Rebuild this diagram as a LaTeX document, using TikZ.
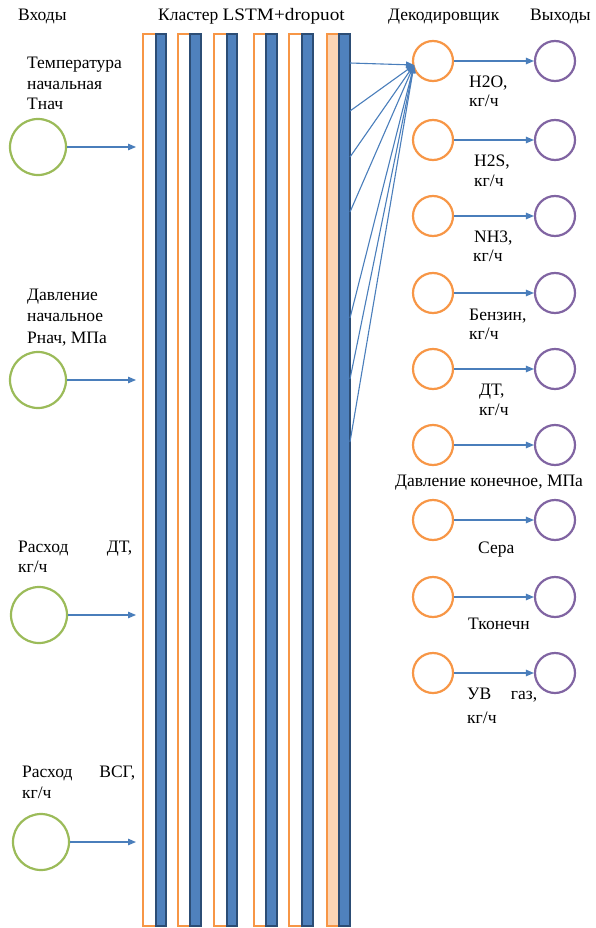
\documentclass[tikz,border=0pt]{standalone}
\usepackage{fontspec}
\setmainfont{Liberation Serif}
\usetikzlibrary{arrows.meta}
\definecolor{orn}{HTML}{F79646}
\definecolor{peach}{HTML}{FBD5B5}
\definecolor{blu}{HTML}{4F81BD}
\definecolor{dblu}{HTML}{2C4D75}
\definecolor{grn}{HTML}{9BBB59}
\definecolor{prp}{HTML}{8064A2}
\definecolor{arr}{HTML}{4A7EBB}
\tikzset{
 txt/.style={font=\fontsize{17.5}{21}\selectfont, inner sep=0pt, anchor=base west},
 orect/.style={draw=orn, line width=2pt},
 orectf/.style={draw=orn, fill=peach, line width=2pt},
 bbar/.style={draw=dblu, fill=blu, line width=1.5pt},
 incirc/.style={circle, draw=grn, line width=2.2pt, minimum size=56pt, inner sep=0pt},
 dcirc/.style={circle, draw=orn, line width=2.2pt, minimum size=40pt, inner sep=0pt},
 ocirc/.style={circle, draw=prp, line width=2.2pt, minimum size=40pt, inner sep=0pt},
 conn/.style={draw=arr, line width=1.1pt, -{Triangle[length=8pt,width=6.5pt]}},
 fan/.style={draw=arr, line width=1.1pt, -{Triangle[length=8pt,width=6pt]}},
}
\begin{document}
\begin{tikzpicture}[x=1pt,y=-1pt]
\useasboundingbox (0,0) rectangle (595,928);
% cluster columns
\draw[orect] (143,34) rectangle (157,926);
\draw[bbar] (156,34) rectangle (166,926);
\draw[orect] (178,34) rectangle (191,926);
\draw[bbar] (190,34) rectangle (201,926);
\draw[orect] (214,34) rectangle (228,926);
\draw[bbar] (227,34) rectangle (237,926);
\draw[orect] (254,34) rectangle (267,926);
\draw[bbar] (266,34) rectangle (277,926);
\draw[orect] (289,34) rectangle (303,926);
\draw[bbar] (302,34) rectangle (313,926);
\draw[orectf] (327,34) rectangle (340,926);
\draw[bbar] (339,34) rectangle (350,926);

% headers
\node[txt] (hIn) at (18,21) {Входы};
\node[txt] (hCl) at (158,21) {Кластер \scalebox{1.1}[1]{LSTM+dropuot}};
\node[txt] (hDe) at (388,21) {Декодировщик};
\node[txt] (hOut) at (530,21) {Выходы};

% inputs
\node[incirc] (i1) at (38,147) {};
\node[incirc] (i2) at (38,380) {};
\node[incirc] (i3) at (39,615) {};
\node[incirc] (i4) at (41,842) {};
\coordinate (e1) at (136,147);
\coordinate (e2) at (136,380);
\coordinate (e3) at (136,615);
\coordinate (e4) at (136,842);
\draw[conn] (i1) -- (e1);
\draw[conn] (i2) -- (e2);
\draw[conn] (i3) -- (e3);
\draw[conn] (i4) -- (e4);

\node[txt] (t1a) at (27,69) {Температура};
\node[txt] (t1b) at (27,90) {начальная};
\node[txt] (t1c) at (27,110) {Тнач};
\node[txt] (t2a) at (27,300) {Давление};
\node[txt] (t2b) at (27,321) {начальное};
\node[txt] (t2c) at (27,343) {Рнач, МПа};
\node[txt, text width=114pt] (t3a) at (18,552) {Расход\hfill ДТ,};
\node[txt] (t3b) at (18,572) {кг/ч};
\node[txt, text width=113pt] (t4a) at (22,777) {Расход\hfill ВСГ,};
\node[txt] (t4b) at (22,798) {кг/ч};

% decoder and outputs
\foreach \k/\yy in {1/61,2/140,3/216,4/293,5/369,6/445,7/520,8/597,9/673}{
  \node[dcirc] (d\k) at (433,\yy) {};
  \node[ocirc] (o\k) at (555,\yy) {};
  \draw[conn] (d\k) -- (o\k);
}

% fan into first decoder
\coordinate (tip) at (414,65);
\coordinate (f0) at (350,63);
\coordinate (f1) at (350,111);
\coordinate (f2) at (350,157);
\coordinate (f3) at (350,212);
\coordinate (f4) at (350,318);
\coordinate (f5) at (350,379);
\coordinate (f6) at (350,442);
\draw[conn] (f0) -- (tip);
\foreach \k in {1,...,6}{ \draw[fan] (f\k) -- (tip); }

% output labels
\node[txt] (l1a) at (469,88) {H2O,};
\node[txt] (l1b) at (469,107) {кг/ч};
\node[txt] (l2a) at (474,167) {H2S,};
\node[txt] (l2b) at (474,186) {кг/ч};
\node[txt] (l3a) at (474,242) {NH3,};
\node[txt] (l3b) at (473,261) {кг/ч};
\node[txt] (l4a) at (469,320) {Бензин,};
\node[txt] (l4b) at (469,339) {кг/ч};
\node[txt] (l5a) at (479,395) {ДТ,};
\node[txt] (l5b) at (479,415) {кг/ч};
\node[txt] (l6) at (395,486) {Давление конечное, МПа};
\node[txt] (l7) at (478,553) {Сера};
\node[txt] (l8) at (468,629) {Тконечн};
\node[txt, text width=70pt] (l9a) at (467,699) {УВ\hfill газ,};
\node[txt] (l9b) at (467,723) {кг/ч};
\end{tikzpicture}
\end{document}
